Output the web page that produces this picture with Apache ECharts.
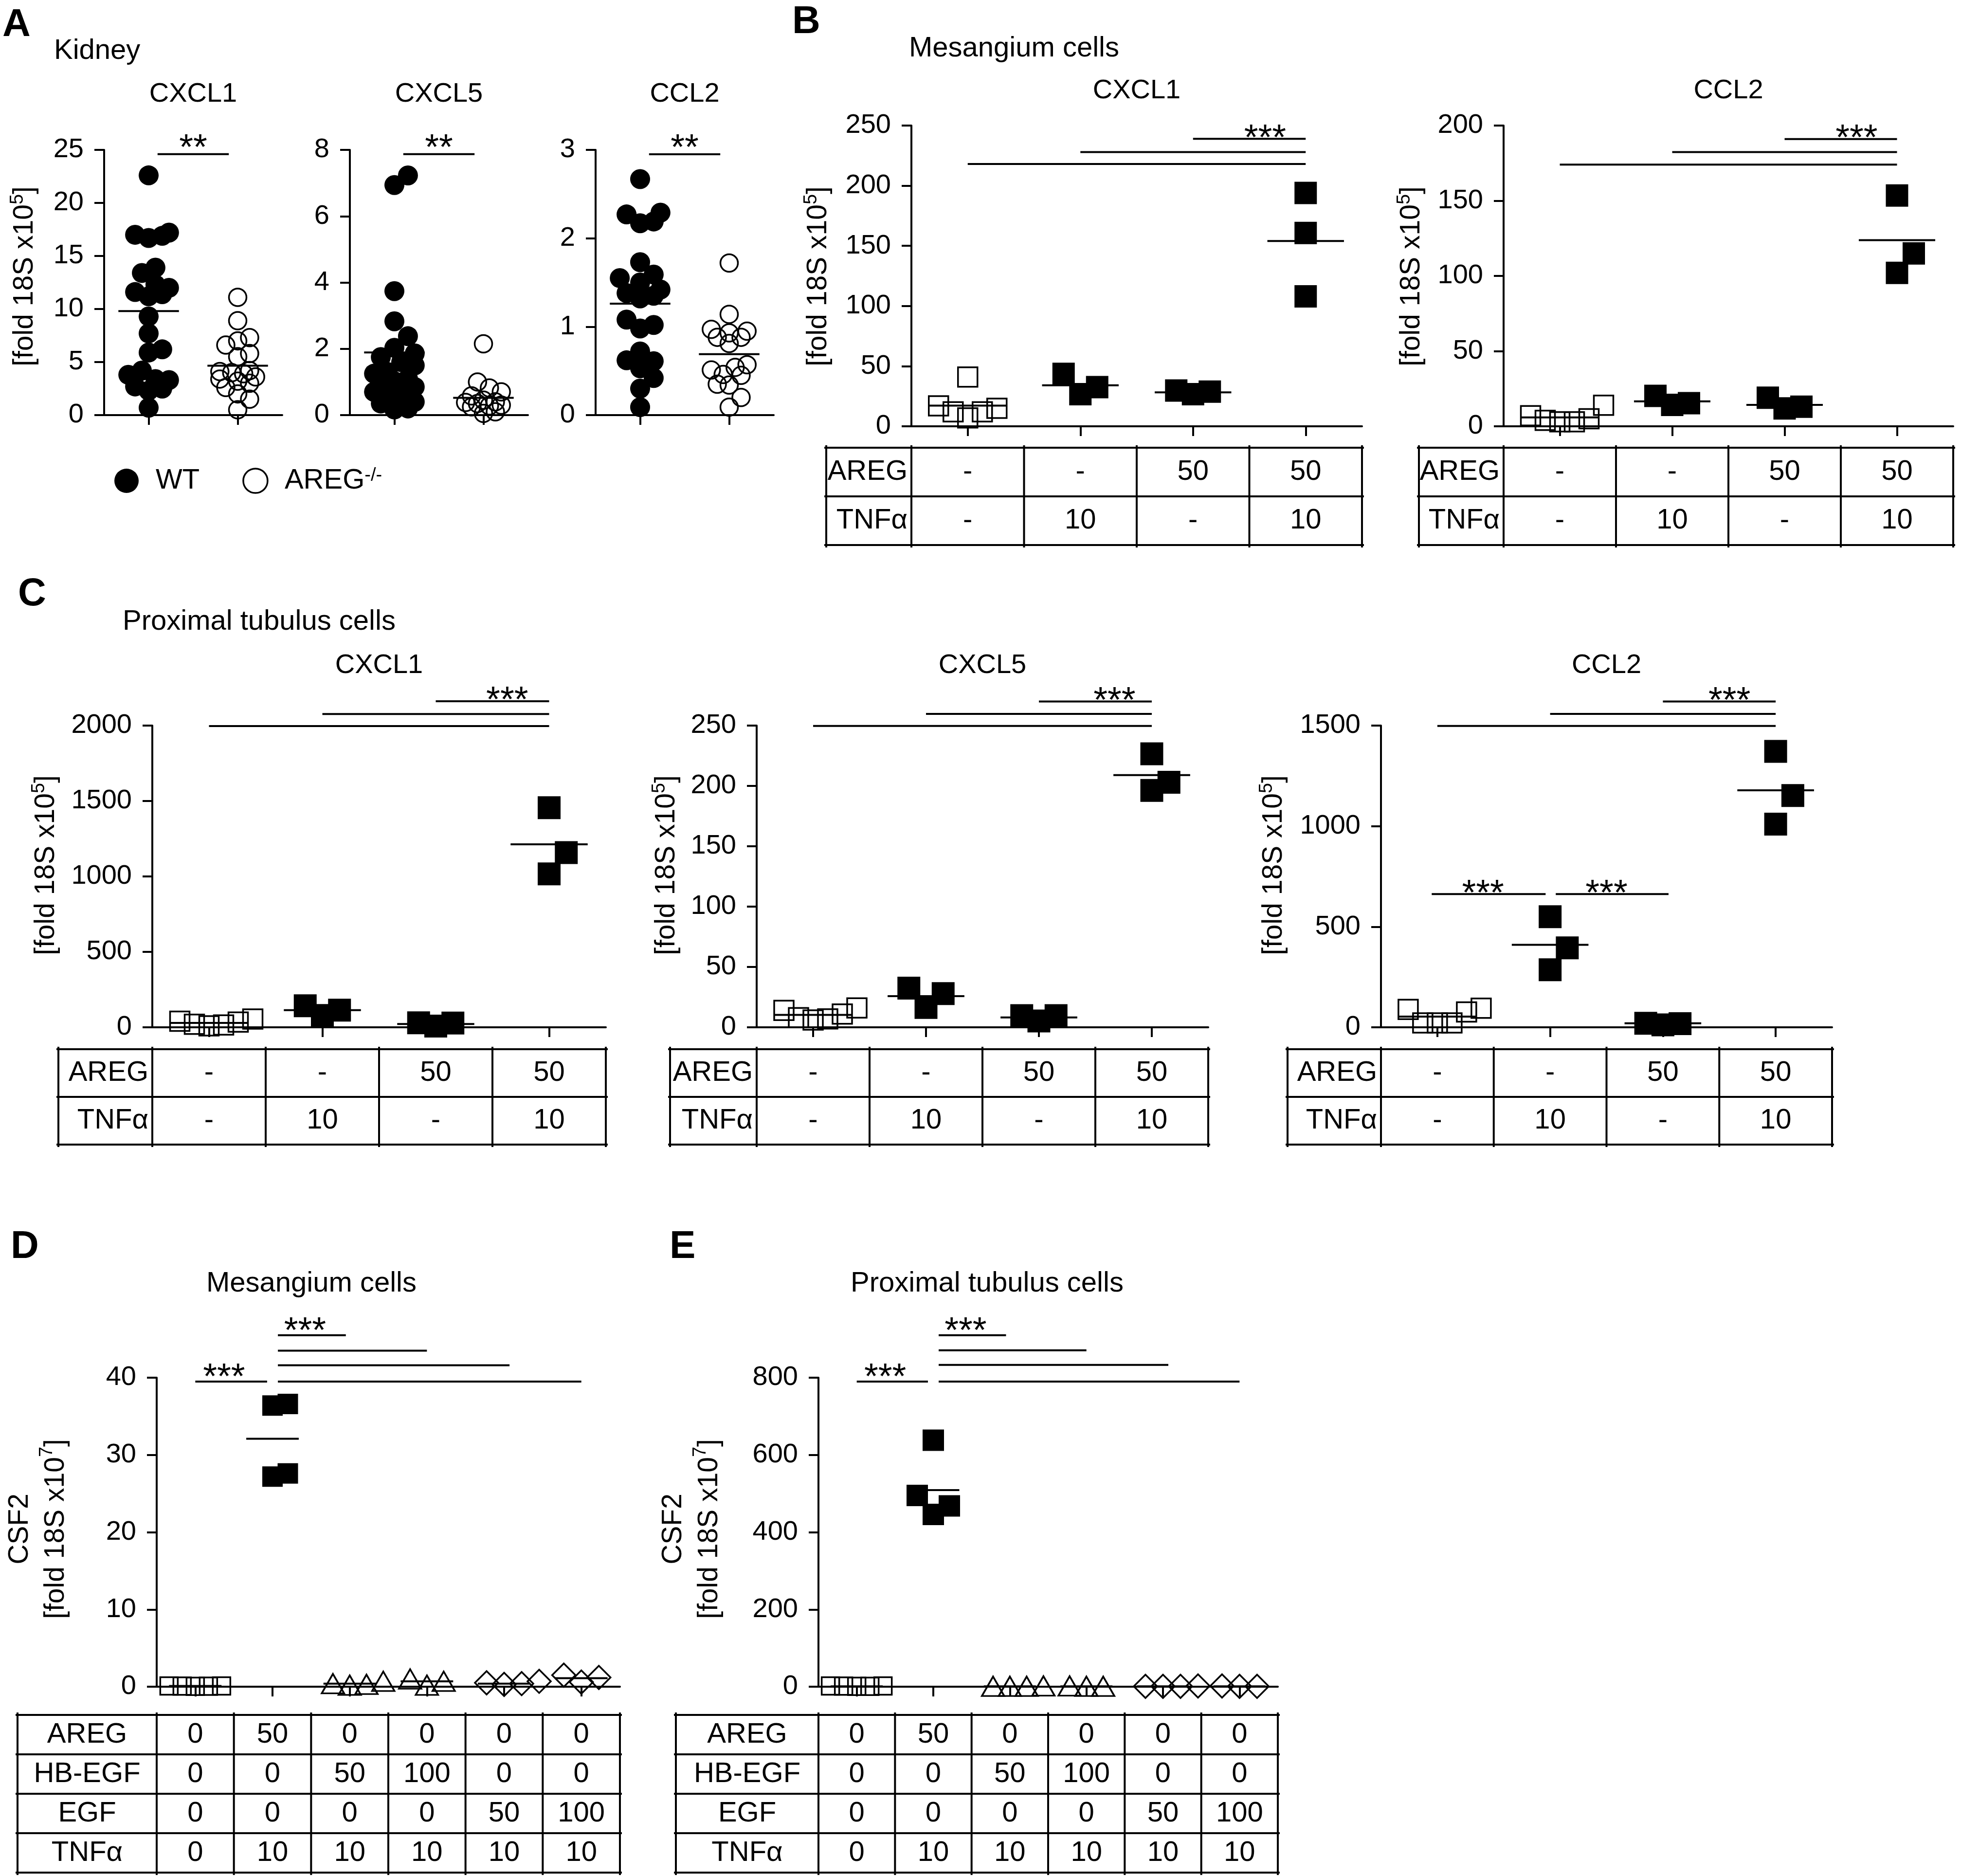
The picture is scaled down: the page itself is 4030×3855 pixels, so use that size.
<!DOCTYPE html>
<html><head><meta charset="utf-8">
<script src="https://cdn.jsdelivr.net/npm/echarts@6/dist/echarts.min.js"></script>
<style>html,body{margin:0;padding:0;background:#fff}#c{width:4030px;height:3855px}</style>
</head><body><div id="c"></div>
<script>
// ================= DATA =================
// Panel A – Kidney (WT vs AREG-/-)
const A_GENES = ['CXCL1', 'CXCL5', 'CCL2'];
const A_GROUPS = ['WT', 'AREG-/-'];
const A_CXCL1_WT = [22.6, 17.2, 17.0, 16.7, 16.9, 13.9, 13.4, 12.3, 12.0, 11.4, 11.6, 11.2, 9.3, 7.7, 6.2, 5.9, 4.2, 3.8, 3.4, 3.3, 2.7, 2.5, 2.3, 0.7];
const A_CXCL1_KO = [11.1, 8.9, 7.3, 7.0, 6.6, 5.8, 5.5, 4.2, 4.1, 3.9, 3.6, 4.0, 3.4, 3.0, 2.6, 3.2, 2.0, 1.5, 0.5];
const A_CXCL5_WT = [7.23, 6.94, 3.74, 2.83, 2.38, 2.03, 1.86, 1.75, 1.5, 1.25, 1.02, 1.02, 0.85, 0.7, 0.64, 0.4, 0.35, 0.2, 0.17, 1.1, 0.9, 0.5, 1.6, 1.3];
const A_CXCL5_KO = [2.15, 1.0, 0.82, 0.7, 0.58, 0.45, 0.38, 0.3, 0.28, 0.25, 0.1, 0.05, 0.35, 0.4];
const A_CCL2_WT = [2.67, 2.27, 2.29, 2.17, 2.19, 1.73, 1.59, 1.55, 1.50, 1.38, 1.42, 1.35, 1.32, 1.08, 1.02, 0.98, 0.72, 0.62, 0.61, 0.53, 0.42, 0.30, 0.09];
const A_CCL2_KO = [1.72, 1.14, 0.95, 0.93, 0.88, 0.88, 0.81, 0.97, 0.57, 0.51, 0.54, 0.45, 0.46, 0.34, 0.35, 0.20, 0.09];
const A_CXCL1_MEANS = [9.8, 4.66];
const A_CXCL5_MEANS = [1.89, 0.52];
const A_CCL2_MEANS = [1.26, 0.69];
const A_YMAX = [25, 8, 3];
const A_YSTEP = [5, 2, 1];
const A_CXCL1_SIG = [[0.1, 0.9, 24.6, '**']];
const A_CXCL5_SIG = [[0.1, 0.9, 7.87, '**']];
const A_CCL2_SIG = [[0.1, 0.9, 2.95, '**']];

// Panel B – Mesangium cells (4 conditions)
const B_GENES = ['CXCL1', 'CCL2'];
const B_CXCL1 = [[41, 12, 15, 17, 12, 7], [43.6, 26.7, 32.6], [29.7, 26.7, 28.8], [194, 160.7, 108]];
const B_CCL2 = [[14, 4, 3, 7, 5, 3], [20.2, 14.2, 15.4], [19, 11.9, 13], [153.5, 115, 102]];
const B_CXCL1_MEANS = [17.2, 34.1, 28.2, 154];
const B_CCL2_MEANS = [5.9, 16.6, 14.2, 123.8];
const B_YMAX = [250, 200];
const B_YSTEP = [50, 50];
const B_CXCL1_SIG = [[0, 3, 218, ''], [1, 3, 228, ''], [2, 3, 239, '***']];
const B_CCL2_SIG = [[0, 3, 174, ''], [1, 3, 182.4, ''], [2, 3, 191, '***']];

// Panel C – Proximal tubulus cells (4 conditions)
const C_GENES = ['CXCL1', 'CXCL5', 'CCL2'];
const C_CXCL1 = [[15, 40, 55, 20, 35, 10], [143, 78, 114], [28, 8, 30], [1456, 1158, 1017]];
const C_CXCL5 = [[8, 14, 6, 16, 11, 7], [32.5, 16.4, 27.9], [9.7, 5.2, 9.7], [226.6, 203, 196.3]];
const C_CCL2 = [[22, 95, 22, 89, 76, 22], [550, 395, 286], [18, 12, 20], [1372, 1152, 1010]];
const C_CXCL1_MEANS = [29, 114, 22, 1213];
const C_CXCL5_MEANS = [10.3, 25.8, 8.2, 209];
const C_CCL2_MEANS = [53, 410, 20, 1178];
const C_YMAX = [2000, 250, 1500];
const C_YSTEP = [500, 50, 500];
const C_CXCL1_SIG = [[0, 3, 1997, ''], [1, 3, 2077, ''], [2, 3, 2161, '***']];
const C_CXCL5_SIG = [[0, 3, 249.7, ''], [1, 3, 259.7, ''], [2, 3, 270, '***']];
const C_CCL2_SIG = [[0, 3, 1498, ''], [1, 3, 1558, ''], [2, 3, 1620, '***'], [-0.05, 0.96, 662, '***'], [1.05, 2.05, 662, '***']];

// Condition tables
const COND_ROWS = ['AREG', 'TNFα'];
const COND_VALUES = [['-', '-', '50', '50'], ['-', '10', '-', '10']];

// Panels D / E – CSF2 (6 conditions)
const D_CSF2 = [[0.05, 0.1, 0.08, 0.1, 0.06], [36.6, 36.4, 27.2, 27.6], [0.4, 0.2, 0.7, 0.3], [1.0, 0.2, 0.7], [0.4, 0.3, 0.7, 0.5], [1.2, 0.6, 1.5]];
const E_CSF2 = [[1, 2, 1.5, 2, 1], [638, 495, 468, 446], [1, 2, 1, 1], [1, 2, 1], [1, 1, 2, 1], [1, 2, 1]];
const D_MEANS = [0.1, 32.1, 0.4, 0.7, 0.4, 1.1];
const E_MEANS = [1, 509, 1, 1, 1, 1];
const DE_YMAX = [40, 800];
const DE_YSTEP = [10, 200];
const D_SIG = [[0, 0.93, 39.5, '***'], [1.07, 1.95, 45.5, '***'], [1.07, 3, 43.5, ''], [1.07, 4.07, 41.6, ''], [1.07, 5, 39.5, '']];
const E_SIG = [[0, 0.93, 790, '***'], [1.07, 1.95, 910, '***'], [1.07, 3, 871, ''], [1.07, 4.07, 833, ''], [1.07, 5, 790, '']];
const DE_ROWS = ['AREG', 'HB-EGF', 'EGF', 'TNFα'];
const DE_VALUES = [
  ['0', '50', '0', '0', '0', '0'],
  ['0', '0', '50', '100', '0', '0'],
  ['0', '0', '0', '0', '50', '100'],
  ['0', '10', '10', '10', '10', '10']
];

// Text labels
const LETTERS = ['A', 'B', 'C', 'D', 'E'];
const SUBTITLES = ['Kidney', 'Mesangium cells', 'Proximal tubulus cells', 'Mesangium cells', 'Proximal tubulus cells'];
const YLABEL = '[fold 18S x10{s|5}]';
const YLABEL_CSF2 = 'CSF2\n[fold 18S x10{s|7}]';

// ================= LAYOUT / STYLE =================
const FONT = '"Liberation Sans", Arial, Helvetica, sans-serif';
const BLACK = '#000';
const LW = 4;
const MLW = 3.5;           // marker outline width
const HW = 0.34;           // half width of mean line (category units)
const STAR_FONT = 74;
const SW_A = {step: 0.34, tx: 0.68, ty: 0.8, maxK: 3};
const SW_B = {step: 0.75, tx: 0.75, ty: 1.35, maxK: 3};

const MARK = {
  fc: {symbol: 'circle', fill: true},
  oc: {symbol: 'circle', fill: false},
  fs: {symbol: 'rect', fill: true},
  os: {symbol: 'rect', fill: false},
  ot: {symbol: 'triangle', fill: false},
  od: {symbol: 'diamond', fill: false}
};

const B_MARKS = ['os', 'fs', 'fs', 'fs'];
const DE_MARKS = ['os', 'fs', 'ot', 'ot', 'od', 'od'];
const SZ_A = {fc: 41, oc: 36};

const P = [
  // A
  {left: 214, top: 308, width: 366, height: 545, xMin: -0.5, xMax: 1.5, yMax: A_YMAX[0], yStep: A_YSTEP[0], groups: [A_CXCL1_WT, A_CXCL1_KO], means: A_CXCL1_MEANS, marks: ['fc', 'oc'], names: A_GROUPS, sig: A_CXCL1_SIG, starPos: [0.5], starDy: -10, sizes: SZ_A, sw: SW_A, title: A_GENES[0], titleY: 194},
  {left: 719, top: 308, width: 366, height: 545, xMin: -0.5, xMax: 1.5, yMax: A_YMAX[1], yStep: A_YSTEP[1], groups: [A_CXCL5_WT, A_CXCL5_KO], means: A_CXCL5_MEANS, marks: ['fc', 'oc'], names: A_GROUPS, sig: A_CXCL5_SIG, starPos: [0.5], starDy: -10, sizes: SZ_A, sw: SW_A, title: A_GENES[1], titleY: 194},
  {left: 1224, top: 308, width: 366, height: 545, xMin: -0.5, xMax: 1.5, yMax: A_YMAX[2], yStep: A_YSTEP[2], groups: [A_CCL2_WT, A_CCL2_KO], means: A_CCL2_MEANS, marks: ['fc', 'oc'], names: A_GROUPS, sig: A_CCL2_SIG, starPos: [0.5], starDy: -10, sizes: SZ_A, sw: SW_A, title: A_GENES[2], titleY: 194},
  // B
  {left: 1873, top: 258, width: 926, height: 618, xMin: -0.5, xMax: 3.5, yMax: B_YMAX[0], yStep: B_YSTEP[0], groups: B_CXCL1, means: B_CXCL1_MEANS, marks: B_MARKS, sig: B_CXCL1_SIG, starPos: [0.5, 0.5, 0.64], starDy: 1, sizes: {fs: 46, os: 40}, sw: SW_B, title: B_GENES[0], titleY: 187},
  {left: 3090, top: 258, width: 924, height: 618, xMin: -0.5, xMax: 3.5, yMax: B_YMAX[1], yStep: B_YSTEP[1], groups: B_CCL2, means: B_CCL2_MEANS, marks: B_MARKS, sig: B_CCL2_SIG, starPos: [0.5, 0.5, 0.64], starDy: 1, sizes: {fs: 46, os: 40}, sw: SW_B, title: B_GENES[1], titleY: 187},
  // C
  {left: 313, top: 1491, width: 932, height: 620, xMin: -0.5, xMax: 3.5, yMax: C_YMAX[0], yStep: C_YSTEP[0], groups: C_CXCL1, means: C_CXCL1_MEANS, marks: B_MARKS, sig: C_CXCL1_SIG, starPos: [0.5, 0.5, 0.63], starDy: 1, sizes: {fs: 47, os: 40}, sw: SW_B, title: C_GENES[0], titleY: 1368},
  {left: 1555, top: 1491, width: 928, height: 620, xMin: -0.5, xMax: 3.5, yMax: C_YMAX[1], yStep: C_YSTEP[1], groups: C_CXCL5, means: C_CXCL5_MEANS, marks: B_MARKS, sig: C_CXCL5_SIG, starPos: [0.5, 0.5, 0.67], starDy: 1, sizes: {fs: 47, os: 40}, sw: SW_B, title: C_GENES[1], titleY: 1368},
  {left: 2838, top: 1491, width: 927, height: 620, xMin: -0.5, xMax: 3.5, yMax: C_YMAX[2], yStep: C_YSTEP[2], groups: C_CCL2, means: C_CCL2_MEANS, marks: B_MARKS, sig: C_CCL2_SIG, starPos: [0.5, 0.5, 0.59, 0.45, 0.45], starDy: 1, sizes: {fs: 47, os: 40}, sw: SW_B, title: C_GENES[2], titleY: 1368},
  // D
  {left: 322, top: 2831, width: 952, height: 635, xMin: -0.5, xMax: 5.5, yMax: DE_YMAX[0], yStep: DE_YSTEP[0], groups: D_CSF2, means: D_MEANS, marks: DE_MARKS, sig: D_SIG, starPos: [0.4, 0.4], starDy: -6, sizes: {fs: 42, os: 36, ot: [46, 40], od: 48}, sw: SW_B},
  // E
  {left: 1682, top: 2831, width: 944, height: 635, xMin: -0.5, xMax: 5.5, yMax: DE_YMAX[1], yStep: DE_YSTEP[1], groups: E_CSF2, means: E_MEANS, marks: DE_MARKS, sig: E_SIG, starPos: [0.4, 0.4], starDy: -6, sizes: {fs: 44, os: 36, ot: [46, 40], od: 48}, sw: SW_B}
];

const TABLES = [
  {panel: 3, rows: COND_ROWS, vals: COND_VALUES, left: 1698, top: 920, rowH: 100, labelAlign: 'right'},
  {panel: 4, rows: COND_ROWS, vals: COND_VALUES, left: 2916, top: 920, rowH: 100, labelAlign: 'right'},
  {panel: 5, rows: COND_ROWS, vals: COND_VALUES, left: 120, top: 2156, rowH: 98, labelAlign: 'right'},
  {panel: 6, rows: COND_ROWS, vals: COND_VALUES, left: 1377, top: 2156, rowH: 98, labelAlign: 'right'},
  {panel: 7, rows: COND_ROWS, vals: COND_VALUES, left: 2646, top: 2156, rowH: 98, labelAlign: 'right'},
  {panel: 8, rows: DE_ROWS, vals: DE_VALUES, left: 36, top: 3524, rowH: 81, labelAlign: 'center'},
  {panel: 9, rows: DE_ROWS, vals: DE_VALUES, left: 1389, top: 3524, rowH: 81, labelAlign: 'center'}
];

// ================= HELPERS =================
function swarmOffsets(vals, pxY, d, o) {
  const step = o.step * d, tx = o.tx * d, ty = o.ty * d;
  const order = vals.map((v, i) => i).sort((a, b) => vals[a] - vals[b] || a - b);
  const cands = [0];
  for (let k = 1; k <= o.maxK; k++) cands.push(k, -k);
  const placed = [], offs = new Array(vals.length).fill(0);
  order.forEach(i => {
    const y = vals[i] * pxY;
    let best = 0, bestScore = -1;
    for (const k of cands) {
      const x = k * step;
      let m = Infinity;
      placed.forEach(p => {
        const q = Math.pow((p.x - x) / tx, 2) + Math.pow((p.y - y) / ty, 2);
        if (q < m) m = q;
      });
      if (m >= 1 - 1e-6) { best = x; break; }
      if (m > bestScore) { bestScore = m; best = x; }
    }
    placed.push({x: best, y});
    offs[i] = best;
  });
  return offs;
}

function T(x, y, text, size, o) {
  o = o || {};
  const align = o.align || 'left';
  return {
    type: 'text', x: x, y: y, rotation: o.rot || 0, silent: true, z: 10,
    style: {
      text: text, fill: BLACK,
      font: (o.bold ? 'bold ' : '') + size + 'px ' + FONT,
      textAlign: align, textVerticalAlign: 'middle',
      align: align, verticalAlign: 'middle',
      lineHeight: o.lh, rich: o.rich
    }
  };
}
function L(x1, y1, x2, y2) {
  return {type: 'line', silent: true, z: 10, shape: {x1, y1, x2, y2}, style: {stroke: BLACK, lineWidth: LW}};
}

// ================= OPTION =================
const grids = [], xAxes = [], yAxes = [], series = [];
P.forEach((p, k) => {
  grids.push({left: p.left, top: p.top, width: p.width, height: p.height, containLabel: false, outerBoundsMode: 'none'});
  xAxes.push({
    gridIndex: k, type: 'value', min: p.xMin, max: p.xMax,
    axisLine: {show: true, onZero: false, lineStyle: {color: BLACK, width: LW}},
    axisTick: {show: true, customValues: p.groups.map((g, i) => i), length: 20, inside: false, lineStyle: {color: BLACK, width: LW}},
    axisLabel: {show: false}, splitLine: {show: false}
  });
  yAxes.push({
    gridIndex: k, type: 'value', min: 0, max: p.yMax, interval: p.yStep,
    axisLine: {show: true, onZero: false, lineStyle: {color: BLACK, width: LW}},
    axisTick: {show: true, length: 20, inside: false, lineStyle: {color: BLACK, width: LW}},
    axisLabel: {show: true, fontSize: 56, fontFamily: FONT, color: BLACK, margin: 42, formatter: v => String(v)},
    splitLine: {show: false}
  });
  const pxX = p.width / (p.xMax - p.xMin), pxY = p.height / p.yMax;
  p.groups.forEach((vals, i) => {
    const mk = p.marks[i];
    const m = MARK[mk];
    const size = p.sizes[mk];
    const d = Array.isArray(size) ? size[0] : size;
    const offs = swarmOffsets(vals, pxY, d, p.sw);
    series.push({
      type: 'scatter', name: p.names ? p.names[i] : ('p' + k + 'g' + i),
      xAxisIndex: k, yAxisIndex: k, symbol: m.symbol, symbolSize: size, clip: false, silent: true, z: 3,
      itemStyle: m.fill ? {color: BLACK, borderWidth: 0, opacity: 1}
                        : {color: 'rgba(0,0,0,0)', borderColor: BLACK, borderWidth: MLW, opacity: 1},
      data: vals.map((v, j) => [i + offs[j] / pxX, v])
    });
  });
  series.push({
    type: 'custom', xAxisIndex: k, yAxisIndex: k, silent: true, z: 4,
    data: p.means.map((v, i) => [i, v]),
    renderItem: (params, api) => {
      const i = api.value(0), v = api.value(1);
      const a = api.coord([i - HW, v]), b = api.coord([i + HW, v]);
      return {type: 'line', shape: {x1: a[0], y1: a[1], x2: b[0], y2: b[1]}, style: {stroke: BLACK, lineWidth: LW}};
    }
  });
  series.push({
    type: 'custom', xAxisIndex: k, yAxisIndex: k, silent: true, z: 4,
    data: p.sig.map(s => [s[0], s[2]]),
    renderItem: (params, api) => {
      const s = p.sig[params.dataIndex];
      const a = api.coord([s[0], s[2]]), b = api.coord([s[1], s[2]]);
      const ch = [{type: 'line', shape: {x1: a[0], y1: a[1], x2: b[0], y2: b[1]}, style: {stroke: BLACK, lineWidth: LW}}];
      if (s[3]) {
        const f = p.starPos[params.dataIndex] != null ? p.starPos[params.dataIndex] : 0.5;
        ch.push({type: 'text', x: a[0] + (b[0] - a[0]) * f, y: a[1] + p.starDy,
          style: {text: s[3], fill: BLACK, font: STAR_FONT + 'px ' + FONT, textAlign: 'center', textVerticalAlign: 'middle', align: 'center', verticalAlign: 'middle'}});
      }
      return {type: 'group', children: ch};
    }
  });
});

const chart = echarts.init(document.getElementById('c'), null, {renderer: 'canvas', width: 4030, height: 3855});
chart.setOption({
  animation: false,
  backgroundColor: '#fff',
  textStyle: {fontFamily: FONT, color: BLACK},
  grid: grids, xAxis: xAxes, yAxis: yAxes, series: series,
  legend: {
    show: true, left: 230, top: 954, itemWidth: 50, itemHeight: 50, itemGap: 88, icon: 'circle', selectedMode: false,
    data: [
      {name: A_GROUPS[0], itemStyle: {color: BLACK, borderWidth: 0}},
      {name: A_GROUPS[1], itemStyle: {color: 'rgba(0,0,0,0)', borderColor: BLACK, borderWidth: MLW}}
    ],
    formatter: n => n === A_GROUPS[0] ? n : '{n|AREG}{s|-/-}',
    textStyle: {fontSize: 58, fontFamily: FONT, color: BLACK, padding: [0, 0, 0, 30],
      rich: {n: {fontSize: 58, fontFamily: FONT, color: BLACK}, s: {fontSize: 38, fontFamily: FONT, color: BLACK, verticalAlign: 'top', lineHeight: 30}}}
  }
});

// ================= ANNOTATIONS (texts & tables) =================
const g = [];
const RICH = {s: {font: '38px ' + FONT, fill: BLACK, verticalAlign: 'top', lineHeight: 30}};
// panel letters
g.push(T(5, 52, LETTERS[0], 80, {bold: true}));
g.push(T(1628, 46, LETTERS[1], 80, {bold: true}));
g.push(T(37, 1222, LETTERS[2], 80, {bold: true}));
g.push(T(22, 2563, LETTERS[3], 80, {bold: true}));
g.push(T(1376, 2563, LETTERS[4], 80, {bold: true}));
// subtitles
g.push(T(111, 105, SUBTITLES[0], 58));
g.push(T(1868, 100, SUBTITLES[1], 58));
g.push(T(252, 1278, SUBTITLES[2], 58));
g.push(T(424, 2638, SUBTITLES[3], 58));
g.push(T(1748, 2638, SUBTITLES[4], 58));
// gene titles
P.forEach(p => { if (p.title) g.push(T(p.left + p.width / 2, p.titleY, p.title, 56, {align: 'center'})); });
// y-axis labels
[[51, 568], [1682, 568], [2901, 568], [95, 1778], [1370, 1778], [2618, 1778]].forEach(c =>
  g.push(T(c[0], c[1], YLABEL, 57, {align: 'center', rot: Math.PI / 2, lh: 66, rich: RICH})));
[[78, 3142], [1421, 3142]].forEach(c =>
  g.push(T(c[0], c[1], YLABEL_CSF2, 57, {align: 'center', rot: Math.PI / 2, lh: 74, rich: RICH})));
// tables
TABLES.forEach(t => {
  const k = t.panel, n = t.vals[0].length, nr = t.rows.length;
  const xs = [];
  for (let i = 0; i <= n; i++) xs.push(chart.convertToPixel({xAxisIndex: k}, i - 0.5));
  const right = xs[n], bottom = t.top + nr * t.rowH;
  for (let r = 0; r <= nr; r++) { const y = t.top + r * t.rowH; g.push(L(t.left - 4, y, right + 4, y)); }
  [t.left].concat(xs).forEach(x => g.push(L(x, t.top - 5, x, bottom + 5)));
  for (let r = 0; r < nr; r++) {
    const yc = t.top + (r + 0.5) * t.rowH;
    if (t.labelAlign === 'right') g.push(T(xs[0] - 8, yc, t.rows[r], 58, {align: 'right'}));
    else g.push(T((t.left + xs[0]) / 2, yc, t.rows[r], 58, {align: 'center'}));
    for (let i = 0; i < n; i++) g.push(T((xs[i] + xs[i + 1]) / 2, yc, t.vals[r][i], 58, {align: 'center'}));
  }
});
chart.setOption({graphic: {elements: g}});
</script>
</body></html>
